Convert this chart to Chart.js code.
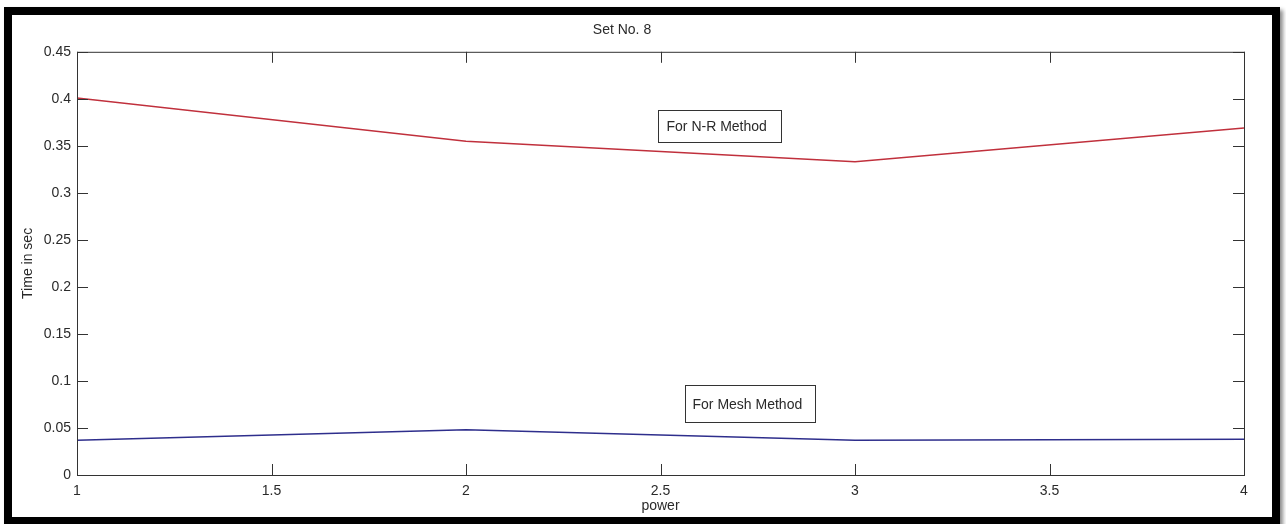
<!DOCTYPE html>
<html>
<head>
<meta charset="utf-8">
<script src="https://cdn.jsdelivr.net/npm/chart.js@4"></script>
<style>
  html, body { margin: 0; padding: 0; background: #fff; }
  #frame {
    position: absolute; left: 4px; top: 7px; width: 1260px; height: 502px;
    border: 8px solid #000; box-shadow: 3px 3px 4px rgba(0,0,0,0.45);
  }
  #chart { position: absolute; left: 0; top: 0; }
</style>
</head>
<body>
<div id="frame"></div>
<canvas id="chart" width="1286" height="524"></canvas>
<script>
// data
const powers = [1, 2, 3, 4];
const nrTimes = [0.401, 0.355, 0.333, 0.369];
const meshTimes = [0.037, 0.048, 0.037, 0.038];
const xTicks = [1, 1.5, 2, 2.5, 3, 3.5, 4];
const yTicks = [0, 0.05, 0.1, 0.15, 0.2, 0.25, 0.3, 0.35, 0.4, 0.45];
const noteLabels = ["For N-R Method", "For Mesh Method"];

const FONT = "'Liberation Sans', Arial, sans-serif";
const INK = "#2a2a2a";

// box, inward ticks and the two text notes (MATLAB look)
const matlabFrame = {
  id: "matlabFrame",
  afterDatasetsDraw(chart, args, opts) {
    const { ctx, chartArea: a, scales } = chart;
    const x = scales.x, y = scales.y;
    const len = 11;
    ctx.save();
    ctx.strokeStyle = "#333";
    ctx.lineWidth = 1;
    ctx.strokeRect(a.left + 0.5, a.top + 0.5, a.right - a.left, a.bottom - a.top);
    ctx.beginPath();
    y.ticks.forEach(t => {
      const py = Math.round(y.getPixelForValue(t.value)) + 0.5;
      ctx.moveTo(a.left, py); ctx.lineTo(a.left + len, py);
      ctx.moveTo(a.right, py); ctx.lineTo(a.right - len, py);
    });
    x.ticks.forEach(t => {
      const px = Math.round(x.getPixelForValue(t.value)) + 0.5;
      ctx.moveTo(px, a.bottom); ctx.lineTo(px, a.bottom - len);
      ctx.moveTo(px, a.top); ctx.lineTo(px, a.top + len);
    });
    ctx.stroke();

    // notes
    ctx.font = "14px " + FONT;
    ctx.textBaseline = "middle";
    opts.notes.forEach((n, i) => {
      const bx = Math.round(x.getPixelForValue(n.x)) + 0.5;
      const by = Math.round(y.getPixelForValue(n.y)) + 0.5;
      ctx.fillStyle = "#fff";
      ctx.fillRect(bx, by, n.w, n.h);
      ctx.strokeStyle = "#333";
      ctx.strokeRect(bx, by, n.w, n.h);
      ctx.fillStyle = INK;
      ctx.fillText(noteLabels[i], bx + n.pad, by + n.h / 2 + 1);
    });
    ctx.restore();
  }
};

new Chart(document.getElementById("chart"), {
  type: "line",
  data: {
    datasets: [
      {
        label: "N-R Method",
        data: powers.map((p, i) => ({ x: p, y: nrTimes[i] })),
        borderColor: "#c0303c",
        borderWidth: 1.5,
        pointRadius: 0,
        tension: 0
      },
      {
        label: "Mesh Method",
        data: powers.map((p, i) => ({ x: p, y: meshTimes[i] })),
        borderColor: "#2e2e8c",
        borderWidth: 1.5,
        pointRadius: 0,
        tension: 0
      }
    ]
  },
  options: {
    responsive: false,
    devicePixelRatio: 1,
    animation: false,
    layout: { padding: { left: 0, right: 42, top: 0, bottom: 0 } },
    plugins: {
      legend: { display: false },
      tooltip: { enabled: false },
      title: {
        display: true,
        text: "Set No. 8",
        color: INK,
        font: { family: FONT, size: 14, weight: "normal" },
        padding: { top: 22, bottom: 13 }
      },
      matlabFrame: {
        notes: [
          { x: 2.494, y: 0.388, w: 123, h: 32, pad: 8 },
          { x: 2.563, y: 0.0957, w: 130, h: 37, pad: 7 }
        ]
      }
    },
    scales: {
      x: {
        type: "linear",
        min: 1,
        max: 4,
        afterBuildTicks: s => { s.ticks = xTicks.map(v => ({ value: v })); },
        afterFit: s => { s.height = 49; },
        grid: { display: false, drawTicks: false },
        border: { display: false },
        ticks: {
          color: INK,
          padding: 8,
          maxRotation: 0,
          font: { family: FONT, size: 14 },
          callback: v => String(v)
        },
        title: {
          display: true,
          text: "power",
          color: INK,
          font: { family: FONT, size: 14 },
          padding: { top: 0, bottom: 9 }
        }
      },
      y: {
        min: 0,
        max: 0.45,
        afterBuildTicks: s => { s.ticks = yTicks.map(v => ({ value: v })); },
        afterFit: s => { s.width = 77; },
        grid: { display: false, drawTicks: false },
        border: { display: false },
        ticks: {
          color: INK,
          padding: 6,
          font: { family: FONT, size: 14 },
          callback: v => String(+v.toFixed(2))
        },
        title: {
          display: true,
          text: "Time in sec",
          color: INK,
          font: { family: FONT, size: 14 },
          padding: { top: 20, bottom: 0 }
        }
      }
    }
  },
  plugins: [matlabFrame]
});
</script>
</body>
</html>
